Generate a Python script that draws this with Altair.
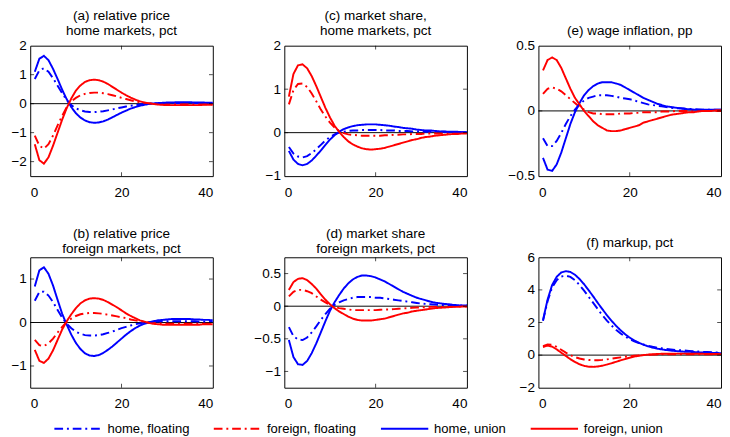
import altair as alt
import pandas as pd

periods = list(range(1, 41))
series_names = ["home, floating", "foreign, floating", "home, union", "foreign, union"]

# (a) relative price, home markets
a_home_float = [0.85, 1.15, 1.22, 1.1, 0.88, 0.62, 0.36, 0.12, -0.05, -0.16, -0.23, -0.27, -0.29, -0.29, -0.28, -0.26, -0.23, -0.2, -0.16, -0.13,
                -0.1, -0.07, -0.05, -0.03, -0.01, 0.0, 0.01, 0.01, 0.02, 0.02, 0.02, 0.02, 0.02, 0.02, 0.02, 0.02, 0.02, 0.01, 0.01, 0.01]
a_foreign_float = [-1.1, -1.45, -1.55, -1.4, -1.1, -0.75, -0.42, -0.12, 0.08, 0.2, 0.29, 0.34, 0.37, 0.38, 0.38, 0.36, 0.33, 0.29, 0.25, 0.2,
                   0.16, 0.12, 0.08, 0.05, 0.03, 0.01, 0.0, -0.01, -0.02, -0.02, -0.02, -0.02, -0.02, -0.02, -0.02, -0.02, -0.02, -0.02, -0.02, -0.02]
a_home_union = [1.1, 1.55, 1.65, 1.5, 1.2, 0.85, 0.48, 0.15, -0.12, -0.33, -0.48, -0.58, -0.64, -0.66, -0.65, -0.61, -0.55, -0.47, -0.39, -0.31,
                -0.24, -0.17, -0.12, -0.07, -0.04, -0.01, 0.01, 0.02, 0.03, 0.04, 0.04, 0.05, 0.05, 0.05, 0.05, 0.04, 0.04, 0.04, 0.03, 0.03]
a_foreign_union = [-1.4, -1.95, -2.07, -1.85, -1.45, -1.0, -0.55, -0.15, 0.18, 0.45, 0.63, 0.75, 0.81, 0.83, 0.81, 0.76, 0.68, 0.58, 0.48, 0.38,
                   0.29, 0.21, 0.14, 0.08, 0.04, 0.01, -0.01, -0.03, -0.04, -0.05, -0.05, -0.05, -0.05, -0.05, -0.05, -0.05, -0.05, -0.04, -0.04, -0.04]

# (c) market share, home markets
c_home_float = [-0.33, -0.48, -0.55, -0.57, -0.54, -0.47, -0.38, -0.28, -0.18, -0.1, -0.04, 0.0, 0.02, 0.04, 0.05, 0.05, 0.06, 0.06, 0.06, 0.06,
                0.06, 0.05, 0.05, 0.05, 0.04, 0.04, 0.04, 0.03, 0.03, 0.03, 0.02, 0.02, 0.02, 0.02, 0.02, 0.01, 0.01, 0.01, 0.01, 0.01]
c_foreign_float = [0.65, 0.98, 1.12, 1.13, 1.05, 0.9, 0.72, 0.53, 0.37, 0.23, 0.12, 0.04, -0.01, -0.04, -0.05, -0.06, -0.07, -0.07, -0.07, -0.07,
                   -0.07, -0.06, -0.06, -0.05, -0.05, -0.04, -0.04, -0.03, -0.03, -0.03, -0.02, -0.02, -0.02, -0.02, -0.02, -0.01, -0.01, -0.01, -0.01, -0.01]
c_home_union = [-0.42, -0.62, -0.72, -0.75, -0.72, -0.64, -0.53, -0.41, -0.28, -0.16, -0.06, 0.02, 0.08, 0.12, 0.15, 0.17, 0.18, 0.19, 0.19, 0.19,
                0.18, 0.17, 0.16, 0.14, 0.13, 0.11, 0.1, 0.09, 0.07, 0.06, 0.05, 0.05, 0.04, 0.03, 0.03, 0.02, 0.02, 0.02, 0.01, 0.01]
c_foreign_union = [0.83, 1.35, 1.55, 1.57, 1.48, 1.3, 1.07, 0.82, 0.57, 0.35, 0.16, 0.02, -0.1, -0.2, -0.27, -0.32, -0.36, -0.38, -0.39, -0.38,
                   -0.37, -0.35, -0.32, -0.29, -0.26, -0.23, -0.2, -0.17, -0.15, -0.12, -0.1, -0.09, -0.07, -0.06, -0.05, -0.04, -0.03, -0.03, -0.02, -0.02]

# (e) wage inflation
e_home_float = [-0.21, -0.27, -0.27, -0.23, -0.17, -0.1, -0.04, 0.01, 0.05, 0.08, 0.1, 0.11, 0.12, 0.12, 0.12, 0.115, 0.11, 0.1, 0.095, 0.09,
                0.08, 0.07, 0.06, 0.05, 0.045, 0.04, 0.035, 0.03, 0.025, 0.02, 0.02, 0.018, 0.016, 0.014, 0.012, 0.01, 0.01, 0.01, 0.01, 0.01]
e_foreign_float = [0.13, 0.17, 0.18, 0.17, 0.15, 0.12, 0.09, 0.06, 0.03, 0.01, -0.01, -0.02, -0.02, -0.025, -0.025, -0.025, -0.025, -0.02, -0.02, -0.02,
                   -0.015, -0.015, -0.01, -0.01, -0.01, -0.01, -0.005, -0.005, -0.005, 0.0, 0.0, 0.0, 0.0, 0.0, 0.0, 0.0, 0.0, 0.0, 0.0, 0.0]
e_home_union = [-0.36, -0.45, -0.46, -0.41, -0.32, -0.21, -0.1, -0.01, 0.06, 0.12, 0.16, 0.19, 0.21, 0.22, 0.22, 0.22, 0.21, 0.2, 0.18, 0.16,
                0.14, 0.12, 0.1, 0.085, 0.07, 0.055, 0.045, 0.035, 0.03, 0.025, 0.02, 0.015, 0.013, 0.01, 0.01, 0.01, 0.01, 0.01, 0.01, 0.01]
e_foreign_union = [0.31, 0.39, 0.41, 0.39, 0.33, 0.25, 0.17, 0.1, 0.05, 0.0, -0.04, -0.08, -0.11, -0.13, -0.15, -0.155, -0.155, -0.15, -0.14, -0.13,
                   -0.12, -0.11, -0.09, -0.08, -0.07, -0.06, -0.05, -0.04, -0.03, -0.025, -0.02, -0.015, -0.01, -0.01, -0.005, 0.0, 0.0, 0.0, 0.005, 0.005]

# (b) relative price, foreign markets
b_home_float = [0.5, 0.7, 0.71, 0.62, 0.47, 0.29, 0.11, -0.03, -0.13, -0.21, -0.26, -0.29, -0.3, -0.3, -0.29, -0.27, -0.24, -0.21, -0.17, -0.13,
                -0.1, -0.07, -0.04, -0.02, 0.0, 0.01, 0.02, 0.02, 0.03, 0.03, 0.03, 0.03, 0.03, 0.03, 0.03, 0.03, 0.02, 0.02, 0.02, 0.02]
b_foreign_float = [-0.4, -0.52, -0.54, -0.48, -0.37, -0.23, -0.1, 0.01, 0.09, 0.15, 0.19, 0.21, 0.22, 0.22, 0.21, 0.2, 0.18, 0.16, 0.14, 0.12,
                   0.1, 0.07, 0.05, 0.03, 0.02, 0.0, -0.01, -0.02, -0.02, -0.03, -0.03, -0.03, -0.03, -0.03, -0.03, -0.03, -0.03, -0.03, -0.03, -0.03]
b_home_union = [0.83, 1.2, 1.27, 1.12, 0.85, 0.52, 0.2, -0.05, -0.28, -0.47, -0.61, -0.71, -0.76, -0.77, -0.75, -0.7, -0.63, -0.55, -0.46, -0.37,
                -0.28, -0.2, -0.13, -0.07, -0.03, 0.0, 0.03, 0.05, 0.06, 0.07, 0.08, 0.08, 0.08, 0.08, 0.08, 0.07, 0.07, 0.06, 0.06, 0.05]
b_foreign_union = [-0.63, -0.88, -0.93, -0.83, -0.64, -0.4, -0.16, 0.03, 0.19, 0.33, 0.44, 0.51, 0.55, 0.56, 0.55, 0.52, 0.47, 0.41, 0.35, 0.28,
                   0.21, 0.15, 0.1, 0.05, 0.02, -0.01, -0.03, -0.04, -0.05, -0.05, -0.05, -0.05, -0.05, -0.05, -0.05, -0.05, -0.05, -0.04, -0.04, -0.04]

# (d) market share, foreign markets
d_home_float = [-0.32, -0.46, -0.51, -0.52, -0.48, -0.4, -0.31, -0.21, -0.12, -0.04, 0.02, 0.06, 0.09, 0.11, 0.13, 0.14, 0.14, 0.14, 0.14, 0.13,
                0.13, 0.12, 0.11, 0.1, 0.09, 0.08, 0.07, 0.06, 0.05, 0.04, 0.035, 0.03, 0.025, 0.02, 0.015, 0.01, 0.01, 0.01, 0.01, 0.01]
d_foreign_float = [0.15, 0.22, 0.25, 0.25, 0.23, 0.2, 0.15, 0.1, 0.06, 0.02, -0.01, -0.03, -0.04, -0.05, -0.06, -0.06, -0.06, -0.06, -0.06, -0.06,
                   -0.055, -0.05, -0.05, -0.045, -0.04, -0.035, -0.03, -0.025, -0.02, -0.02, -0.015, -0.01, -0.01, -0.01, -0.01, -0.01, -0.005, -0.005, -0.005, -0.005]
d_home_union = [-0.52, -0.78, -0.89, -0.9, -0.84, -0.72, -0.57, -0.4, -0.23, -0.07, 0.06, 0.17, 0.27, 0.35, 0.41, 0.45, 0.47, 0.47, 0.46, 0.44,
                0.41, 0.38, 0.34, 0.3, 0.26, 0.22, 0.19, 0.16, 0.13, 0.11, 0.09, 0.07, 0.055, 0.045, 0.035, 0.03, 0.02, 0.015, 0.01, 0.01]
d_foreign_union = [0.25, 0.37, 0.42, 0.43, 0.4, 0.34, 0.27, 0.18, 0.1, 0.03, -0.03, -0.08, -0.12, -0.16, -0.19, -0.21, -0.22, -0.22, -0.22, -0.21,
                   -0.2, -0.19, -0.17, -0.15, -0.13, -0.11, -0.1, -0.08, -0.07, -0.06, -0.05, -0.04, -0.03, -0.025, -0.02, -0.015, -0.01, -0.01, -0.005, -0.005]

# (f) markup
f_home_float = [2.1, 3.3, 4.15, 4.6, 4.82, 4.87, 4.8, 4.6, 4.3, 3.95, 3.58, 3.2, 2.82, 2.45, 2.12, 1.82, 1.56, 1.33, 1.14, 0.98,
                0.85, 0.74, 0.65, 0.57, 0.51, 0.46, 0.42, 0.38, 0.35, 0.32, 0.3, 0.28, 0.26, 0.24, 0.22, 0.2, 0.19, 0.17, 0.16, 0.15]
f_foreign_float = [0.55, 0.65, 0.63, 0.5, 0.33, 0.15, 0.0, -0.12, -0.21, -0.27, -0.3, -0.31, -0.31, -0.29, -0.26, -0.22, -0.18, -0.14, -0.1, -0.07,
                   -0.04, -0.02, 0.0, 0.02, 0.03, 0.04, 0.05, 0.05, 0.05, 0.05, 0.05, 0.05, 0.05, 0.05, 0.05, 0.05, 0.05, 0.05, 0.05, 0.05]
f_home_union = [2.15, 3.4, 4.3, 4.8, 5.07, 5.15, 5.1, 4.93, 4.67, 4.35, 3.98, 3.6, 3.2, 2.82, 2.45, 2.11, 1.8, 1.52, 1.28, 1.07,
                0.9, 0.76, 0.64, 0.54, 0.46, 0.4, 0.35, 0.31, 0.28, 0.25, 0.23, 0.21, 0.2, 0.19, 0.17, 0.16, 0.15, 0.14, 0.13, 0.12]
f_foreign_union = [0.5, 0.58, 0.52, 0.35, 0.15, -0.05, -0.25, -0.42, -0.56, -0.66, -0.71, -0.72, -0.7, -0.65, -0.58, -0.5, -0.41, -0.32, -0.24, -0.16,
                   -0.09, -0.04, 0.0, 0.03, 0.05, 0.07, 0.08, 0.08, 0.09, 0.09, 0.09, 0.09, 0.09, 0.08, 0.08, 0.08, 0.07, 0.07, 0.07, 0.06]

NB = "\u00a0"
panels = [
    (["(a) relative price", "home markets, pct"], [-2.5, 2], [-2, -1, 0, 1, 2],
     [a_home_float, a_foreign_float, a_home_union, a_foreign_union]),
    (["(c) market share,", "home markets, pct"], [-1, 2], [-1, 0, 1, 2],
     [c_home_float, c_foreign_float, c_home_union, c_foreign_union]),
    ([NB, "(e) wage inflation, pp"], [-0.5, 0.5], [-0.5, 0, 0.5],
     [e_home_float, e_foreign_float, e_home_union, e_foreign_union]),
    (["(b) relative price" + NB, "foreign markets, pct"], [-1.5, 1.5], [-1, 0, 1],
     [b_home_float, b_foreign_float, b_home_union, b_foreign_union]),
    (["(d) market share" + NB * 4, "foreign markets, pct"], [-1.25, 0.75], [-1, -0.5, 0, 0.5],
     [d_home_float, d_foreign_float, d_home_union, d_foreign_union]),
    ([NB, "(f) markup, pct"], [-2, 6], [-2, 0, 2, 4, 6],
     [f_home_float, f_foreign_float, f_home_union, f_foreign_union]),
]

x_ticks = [0, 20, 40]
FONT = "Liberation Sans"
PW, PH = 189, 135
colors = ["#0000ff", "#ff0000", "#0000ff", "#ff0000"]
dashes = [[9, 4, 2, 4], [9, 4, 2, 4], [1, 0], [1, 0]]

legend = alt.Legend(title=None, orient="bottom", offset=-32, direction="horizontal",
                    columns=4, symbolType="stroke", symbolSize=2400, symbolStrokeWidth=2,
                    labelFont=FONT, labelFontSize=13.5, labelColor="black", labelOffset=5,
                    columnPadding=21, padding=24)


def make_panel(title, ydom, yticks, series):
    rows = []
    for name, vals in zip(series_names, series):
        for t, v in zip(periods, vals):
            rows.append({"x": t, "y": v, "series": name})
    df = pd.DataFrame(rows)
    xs = alt.Scale(domain=[0, 40], nice=False, zero=False, padding=0)
    ys = alt.Scale(domain=ydom, nice=False, zero=False, padding=0)
    xax = alt.Axis(values=x_ticks, title=None, labelPadding=10, labelOverlap=False, tickCount=10)
    yax = alt.Axis(values=yticks, title=None, format="~g", labelPadding=4, minExtent=22, maxExtent=22,
                   labelOverlap=False, tickCount=10)

    lines = alt.Chart(df).mark_line(strokeWidth=2, clip=True).encode(
        x=alt.X("x:Q", scale=xs, axis=xax),
        y=alt.Y("y:Q", scale=ys, axis=yax),
        color=alt.Color("series:N", scale=alt.Scale(domain=series_names, range=colors),
                        sort=series_names, legend=legend),
        strokeDash=alt.StrokeDash("series:N", scale=alt.Scale(domain=series_names, range=dashes),
                                  sort=series_names, legend=legend),
        detail="series:N",
    )
    zero = alt.Chart(pd.DataFrame({"y": [0]})).mark_rule(color="black", strokeWidth=1).encode(
        y=alt.Y("y:Q", scale=ys, axis=yax))
    inner_y = [v for v in yticks if ydom[0] < v < ydom[1]]
    inner_x = [20]

    def tick_layer(xv, yv, orient, **off):
        return alt.Chart(pd.DataFrame({"x": xv, "y": yv})).mark_tick(
            orient=orient, size=4, thickness=1, color="black", **off).encode(
            x=alt.X("x:Q", scale=xs, axis=xax), y=alt.Y("y:Q", scale=ys, axis=yax))

    bt = tick_layer(inner_x, [ydom[0]] * len(inner_x), "vertical", yOffset=-2)
    tt = tick_layer(inner_x, [ydom[1]] * len(inner_x), "vertical", yOffset=2)
    lt = tick_layer([0] * len(inner_y), inner_y, "horizontal", xOffset=2)
    rt = tick_layer([40] * len(inner_y), inner_y, "horizontal", xOffset=-2)
    return alt.layer(zero, lines, bt, tt, lt, rt).properties(
        width=PW, height=PH,
        title=alt.TitleParams(text=title, fontSize=14, font=FONT, fontWeight="normal",
                              color="black", lineHeight=16, offset=1, anchor="middle"))


charts = [make_panel(*p) for p in panels]

chart = alt.concat(*charts, columns=3, spacing={"row": 20, "column": 40}).properties(
    padding={"left": 0, "top": -8, "right": 0, "bottom": 0}
).configure_view(
    stroke="black", strokeWidth=1
).configure_axis(
    ticks=False, domain=False, grid=False, labelFont=FONT, labelFontSize=14, labelColor="black",
    labelOverlap=False
).configure_title(
    font=FONT
)

chart.save("out.html", embed_options={"renderer": "svg", "actions": False})
